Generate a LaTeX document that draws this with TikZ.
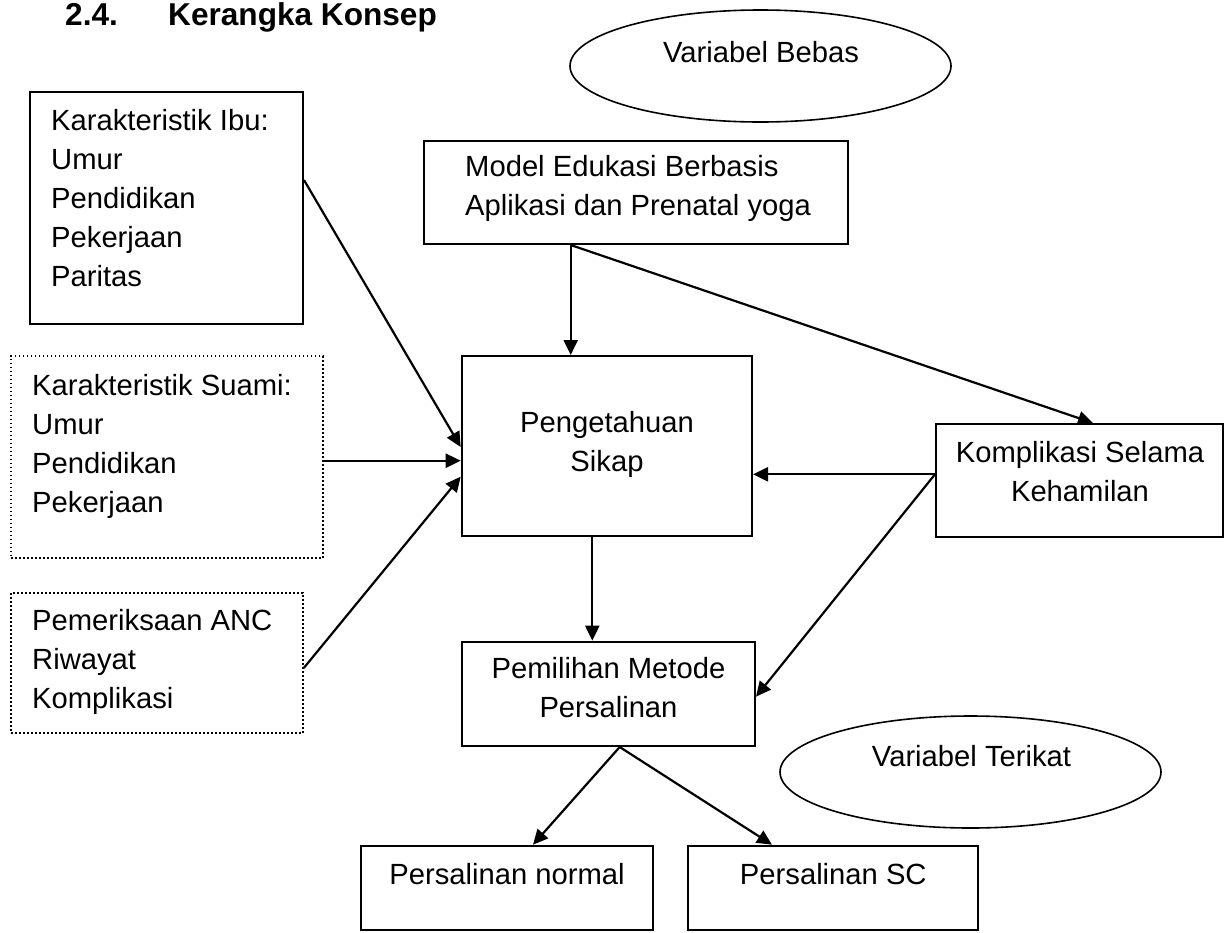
\documentclass[tikz,border=0pt]{standalone}
\usepackage{fontspec}
\setmainfont{Liberation Sans}
\usetikzlibrary{arrows.meta,shapes.geometric}
\newcommand\stackL[1]{\vtop{\baselineskip=39pt\lineskiplimit=-100pt\lineskip=0pt\halign{##\hfil\cr#1\crcr}}}
\newcommand\stackC[1]{\vtop{\baselineskip=39pt\lineskiplimit=-100pt\lineskip=0pt\halign{\hfil##\hfil\cr#1\crcr}}}
\tikzset{
  box/.style={draw=black, line width=2pt, rectangle, inner sep=0pt},
  dotbox/.style={draw=black, line width=2.2pt, rectangle, inner sep=0pt, dash pattern=on 1.8pt off 2.2pt},
  ell/.style={draw=black, line width=1.6pt, ellipse, inner sep=0pt},
  txt/.style={inner sep=0pt, font=\fontsize{29.2}{39}\selectfont},
  arr/.style={line width=2.2pt, -{Triangle[length=15pt,width=14pt]}},
}
\begin{document}
\begin{tikzpicture}[x=1pt,y=-1pt]
\useasboundingbox (0,0) rectangle (1231,932);
% title
\node[anchor=base west, inner sep=0pt, font={\bfseries\fontsize{31.6}{36}\selectfont}] (t1) at (65,25) {2.4.};
\node[anchor=base west, inner sep=0pt, font={\bfseries\fontsize{31.6}{36}\selectfont}] (t2) at (168,25) {Kerangka Konsep};
% ellipses
\node[ell, minimum width=381pt, minimum height=112pt] (vb) at (760.5,66) {};
\node[txt, anchor=base] (vbt) at (761,62) {Variabel Bebas};
\node[ell, minimum width=381pt, minimum height=112pt] (vt) at (970.5,772) {};
\node[txt, anchor=base] (vtt) at (971.5,766.7) {Variabel Terikat};
% boxes
\node[box, minimum width=273.5pt, minimum height=232pt] (ibu) at (166.25,208) {};
\node[txt, anchor=base west] (ibut) at (51,130) {\stackL{Karakteristik Ibu:\cr Umur\cr Pendidikan\cr Pekerjaan\cr Paritas}};
\node[dotbox, minimum width=311.7pt, minimum height=202pt] (suami) at (166.85,457) {};
\node[txt, anchor=base west] (suamit) at (32,395) {\stackL{Karakteristik Suami:\cr Umur\cr Pendidikan\cr Pekerjaan}};
\node[dotbox, minimum width=291.7pt, minimum height=140.3pt] (pem) at (156.85,662.85) {};
\node[txt, anchor=base west] (pemt) at (32,630) {\stackL{Pemeriksaan ANC\cr Riwayat\cr Komplikasi}};
\node[box, minimum width=424pt, minimum height=103.3pt] (model) at (636,192.35) {};
\node[txt, anchor=base west] (modelt) at (465,176.7) {\stackL{Model Edukasi Berbasis\cr Aplikasi dan Prenatal yoga}};
\node[box, minimum width=290.3pt, minimum height=180pt] (peng) at (606.85,446) {};
\node[txt, anchor=base] (pengt) at (607,432) {\stackC{Pengetahuan\cr Sikap}};
\node[box, minimum width=287pt, minimum height=113pt] (komp) at (1079.5,480.5) {};
\node[txt, anchor=base] (kompt) at (1080,462.7) {\stackC{Komplikasi Selama\cr Kehamilan}};
\node[box, minimum width=293pt, minimum height=104.3pt] (pil) at (608.5,693.85) {};
\node[txt, anchor=base] (pilt) at (608.5,678) {\stackC{Pemilihan Metode\cr Persalinan}};
\node[box, minimum width=291.7pt, minimum height=84.3pt] (normal) at (506.85,887.85) {};
\node[txt, anchor=base] (normalt) at (507,884.3) {Persalinan normal};
\node[box, minimum width=290pt, minimum height=84.3pt] (sc) at (833.3,887.85) {};
\node[txt, anchor=base] (sct) at (833.3,884.3) {Persalinan SC};
% connectors
\draw[arr] (model.south -| 570.7,0) -- (peng.north -| 570.7,0);
\draw[arr] (model.south -| 570.7,0) -- (komp.north -| 1093,0);
\draw[arr] (ibu.east |- 0,180) -- (peng.west |- 0,447);
\draw[arr] (suami.east |- 0,460.7) -- (peng.west |- 0,460.7);
\draw[arr] (pem.east |- 0,668) -- (peng.west |- 0,476.7);
\draw[arr] (komp.west |- 0,474.3) -- (peng.east |- 0,474.3);
\draw[arr] (komp.west |- 0,474.3) -- (pil.east |- 0,696.7);
\draw[arr] (peng.south -| 592.3,0) -- (pil.north -| 592.3,0);
\draw[arr] (pil.south -| 619.7,0) -- (normal.north -| 533,0);
\draw[arr] (pil.south -| 619.7,0) -- (sc.north -| 772,0);
\end{tikzpicture}
\end{document}
